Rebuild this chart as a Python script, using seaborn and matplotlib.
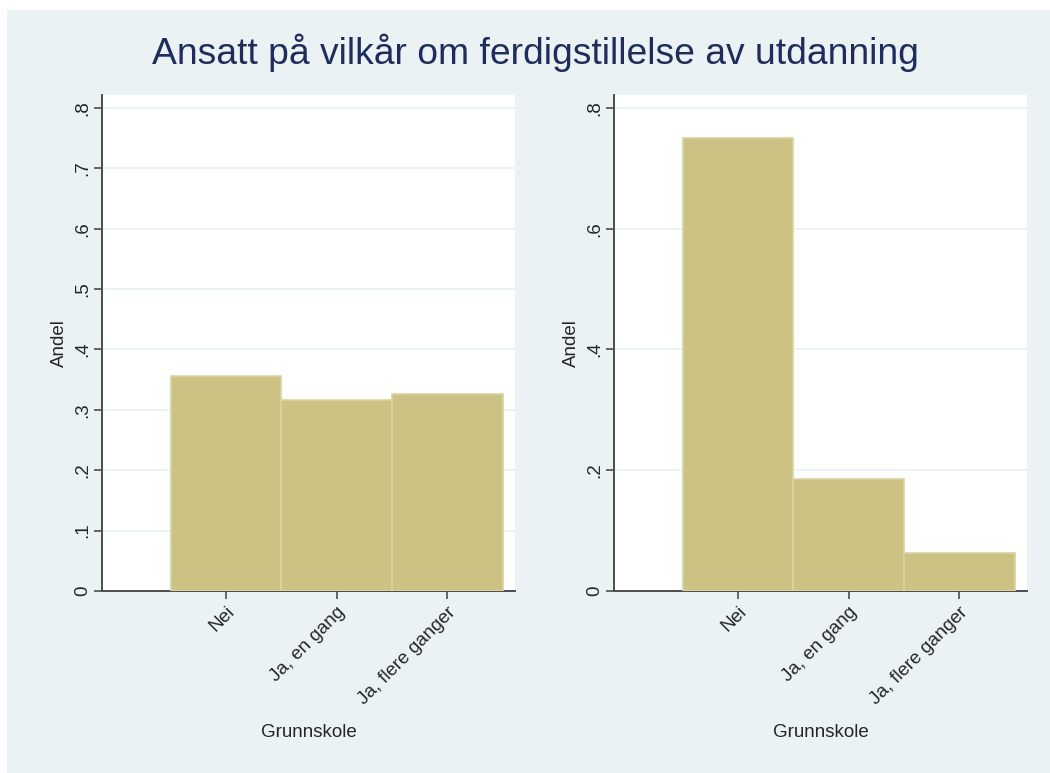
import matplotlib
matplotlib.use("Agg")
import matplotlib.pyplot as plt
from matplotlib.patches import Rectangle
import seaborn as sns
import pandas as pd

sns.set_style("white")
plt.rcParams['font.family'] = ['Liberation Sans', 'DejaVu Sans']

# data
categories = ["Nei", "Ja, en gang", "Ja, flere ganger"]
left_share = [0.356, 0.317, 0.327]
right_share = [0.750, 0.185, 0.063]
left_ticks = [0, .1, .2, .3, .4, .5, .6, .7, .8]
left_labels = ["0", ".1", ".2", ".3", ".4", ".5", ".6", ".7", ".8"]
right_ticks = [0, .2, .4, .6, .8]
right_labels = ["0", ".2", ".4", ".6", ".8"]

BG = "#EAF2F3"
BAR = "#CBC283"
EDGE = "#D9D3A2"
AXIS = "#4D4D4D"

fig = plt.figure(figsize=(10.5, 7.73), dpi=100, facecolor=BG)
# thin white strips on the top and left edge, like the export
fig.patches.append(Rectangle((0, 763 / 773), 1, 10 / 773, transform=fig.transFigure,
                             facecolor="white", edgecolor="none", zorder=-10))
fig.patches.append(Rectangle((0, 0), 7 / 1050, 1, transform=fig.transFigure,
                             facecolor="white", edgecolor="none", zorder=-10))

fig.text(535 / 1050, 1 - 53 / 773, "Ansatt på vilkår om ferdigstillelse av utdanning",
         ha="center", va="center", fontsize=26.8, color="#1F2D5C")

panels = [
    (102 / 1050, left_share, left_ticks, left_labels),
    (614 / 1050, right_share, right_ticks, right_labels),
]

for x0, shares, ticks, labels in panels:
    ax = fig.add_axes([x0, (773 - 591) / 773, 413 / 1050, (591 - 95) / 773])
    df = pd.DataFrame({"Grunnskole": categories, "Andel": shares})
    sns.barplot(data=df, x="Grunnskole", y="Andel", color=BAR, saturation=1,
                width=1, edgecolor=EDGE, linewidth=1.2, ax=ax, zorder=3)
    ax.set_facecolor("white")
    ax.set_xlim(-1.124, 2.613)
    ax.set_ylim(0, 0.8215)
    ax.set_yticks(ticks)
    ax.set_yticklabels(labels, rotation=90, va="center", fontsize=13.5)
    ax.set_xticks(range(len(categories)))
    ax.set_xticklabels(categories, rotation=45, ha="right", rotation_mode="anchor", fontsize=13.5)
    ax.grid(axis="y", color=BG, linewidth=1.3, zorder=0)
    ax.grid(axis="x", visible=False)
    for s in ["top", "right"]:
        ax.spines[s].set_visible(False)
    for s in ["left", "bottom"]:
        ax.spines[s].set_color(AXIS)
        ax.spines[s].set_linewidth(1.4)
    ax.tick_params(axis="y", direction="out", length=6, width=1.2, color=AXIS,
                   left=True, pad=2)
    ax.tick_params(axis="x", direction="out", length=6, width=1.2, color=AXIS,
                   bottom=True, pad=3)
    ax.set_xlabel("Grunnskole", fontsize=13.5, labelpad=12)
    ax.set_ylabel("Andel", fontsize=13.5, labelpad=4)

fig.savefig("out.png", dpi=100, facecolor=fig.get_facecolor())
